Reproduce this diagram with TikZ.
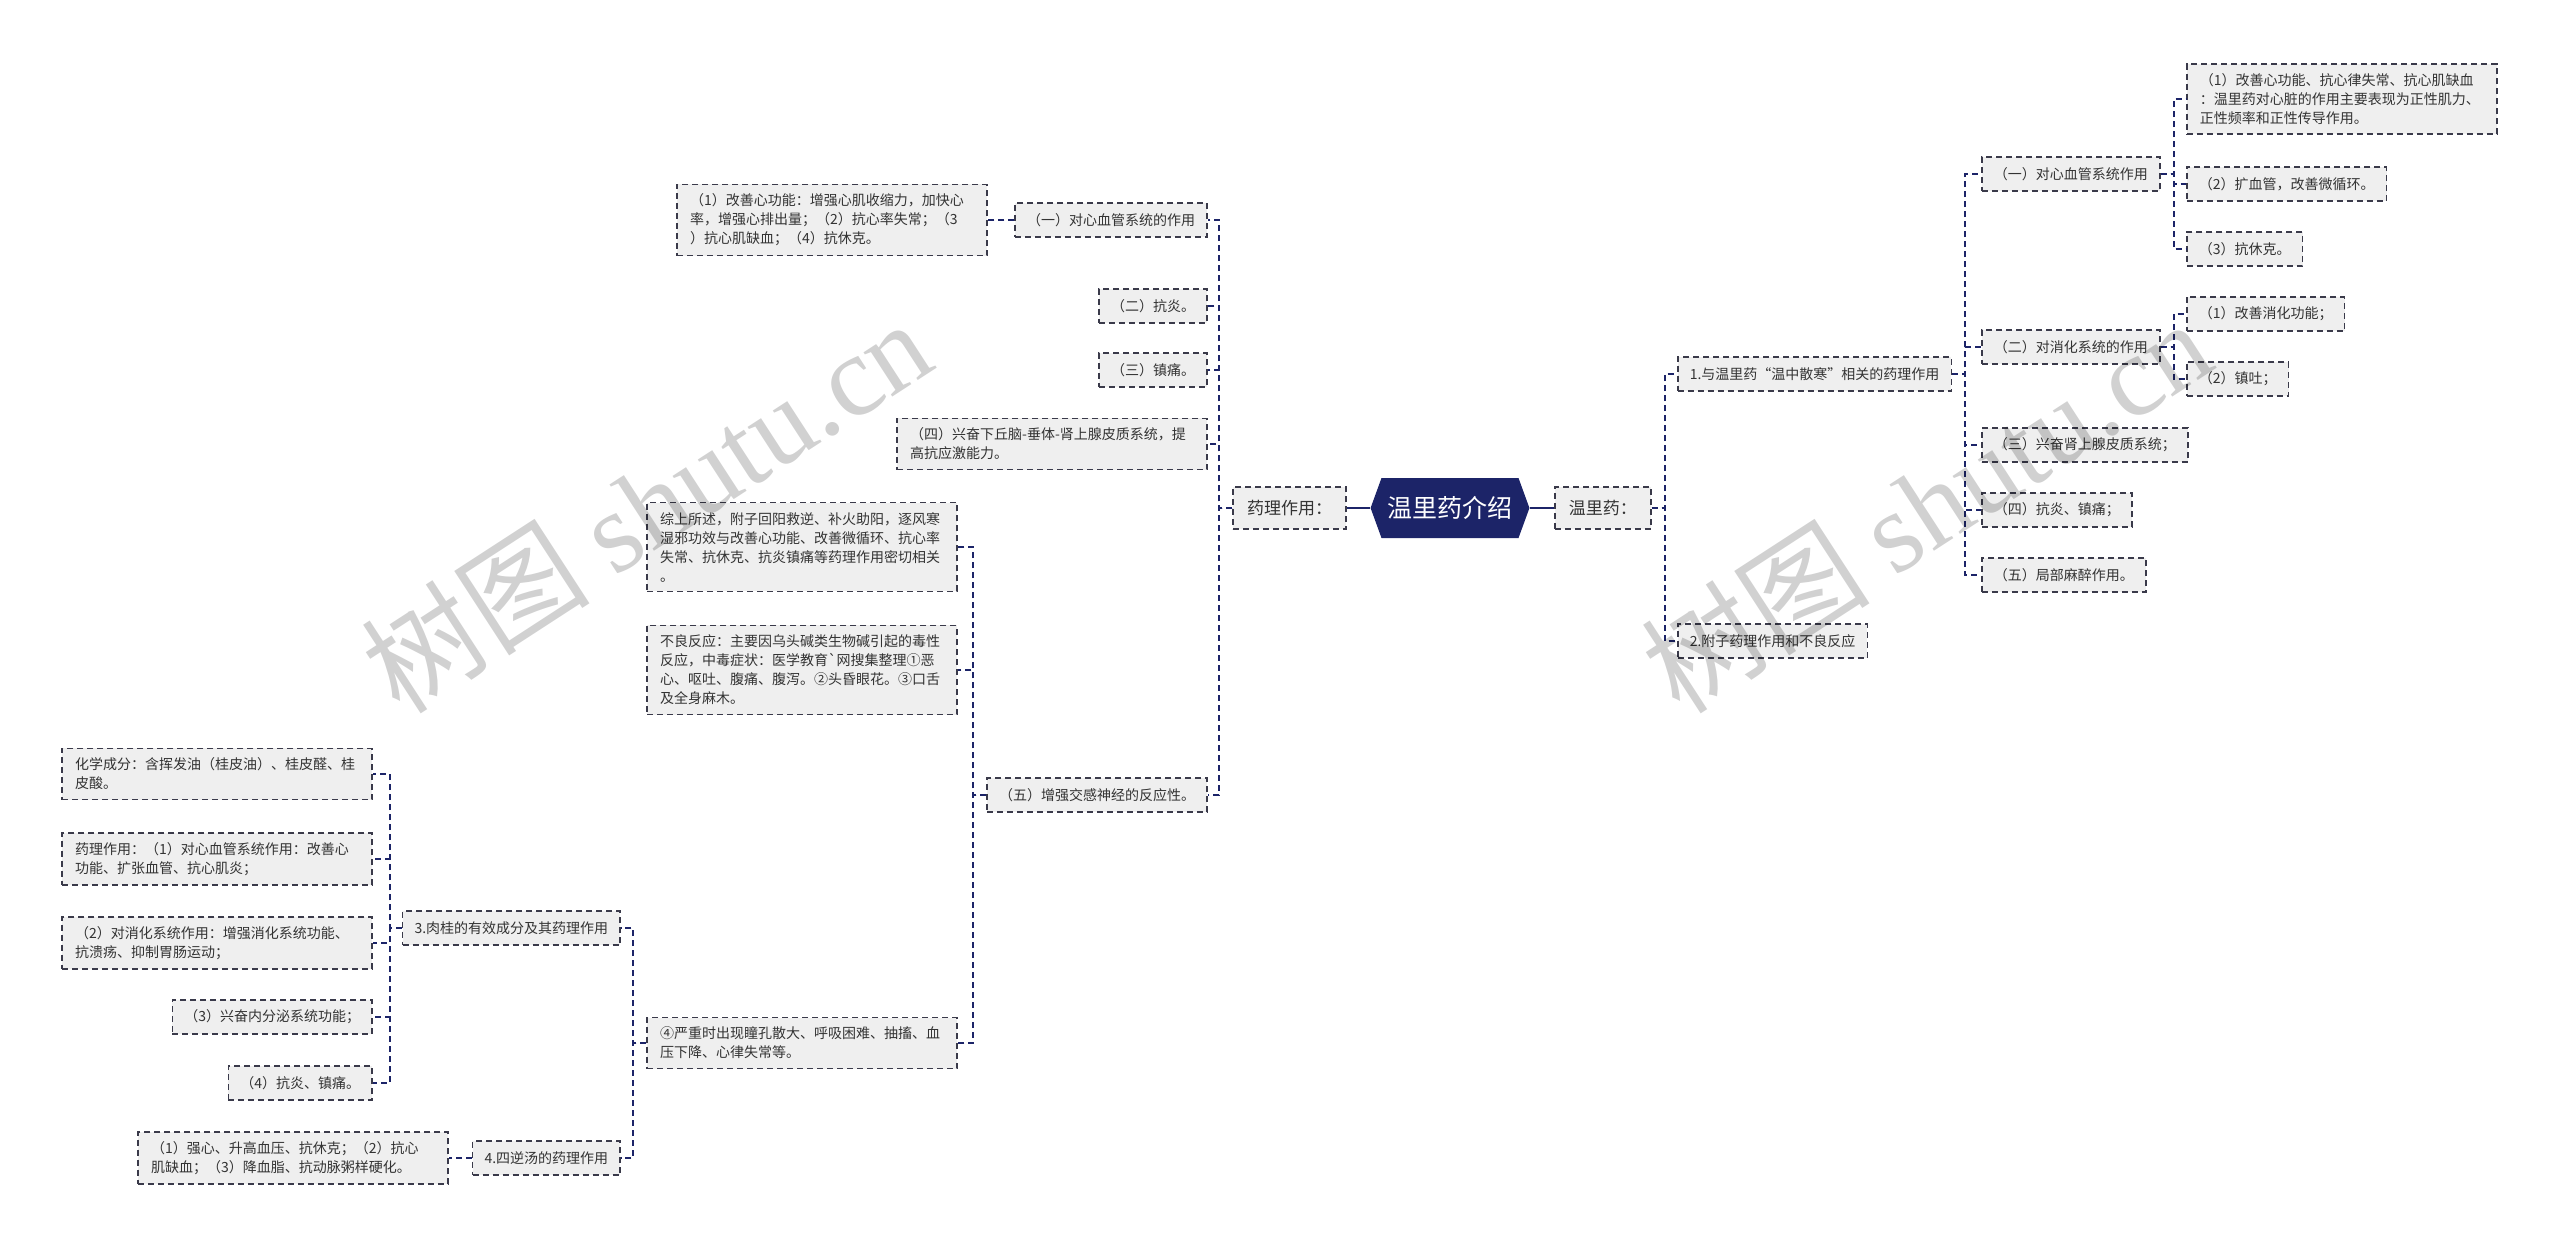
\documentclass[tikz,border=0pt]{standalone}
\usepackage{fontspec}
\usepackage{tikz}
\usetikzlibrary{positioning, shapes.symbols}
\newfontfamily\cjk{Noto Sans CJK SC}
\newfontfamily\wmserif{Liberation Serif}
\definecolor{navy}{HTML}{1C2468}
\definecolor{boxfill}{HTML}{EFEFEF}
\definecolor{boxline}{HTML}{3A3A4A}
\definecolor{ink}{HTML}{333333}

\begin{document}
\begin{tikzpicture}[
  x=1pt, y=-1pt,
  hub/.style={signal, signal to=west and east, signal pointer angle=140,
    fill=navy, text=white, font=\cjk\fontsize{25}{30}\selectfont,
    minimum width=150pt, minimum height=60pt, inner xsep=6pt},
  branch/.style={rectangle, draw=boxline, fill=boxfill, text=ink,
    line width=1.6pt, dash pattern=on 6pt off 4pt,
    font=\cjk\fontsize{17}{22}\selectfont,
    minimum height=42pt, inner xsep=14pt},
  leaf/.style={rectangle, draw=boxline, fill=boxfill, text=ink,
    line width=1.6pt, dash pattern=on 6pt off 4pt,
    font=\cjk\fontsize{14}{19}\selectfont,
    minimum height=34pt, inner xsep=12pt, inner ysep=9.5pt},
  longleaf/.style={leaf, text width=284pt, align=left, inner xsep=13pt},
  link/.style={draw=navy, line width=2pt, dash pattern=on 6pt off 4pt},
  trunk/.style={draw=navy, line width=2.6pt},
  wmark/.style={rotate=33, text=black, text opacity=0.18,
    font=\cjk\fontsize{115}{115}\selectfont}
]
  \path[fill=white, use as bounding box] (0,0) rectangle (2560,1248);

  % centre and first level
  \node[hub] (root) at (1450,508) {温里药介绍};
  \node[branch, anchor=east] (yl) at (1347,508) {药理作用：};
  \node[branch, anchor=west] (wl) at (1554,508) {温里药：};

  % left side
  \node[leaf, anchor=east] (l1) at (1208,220) {（一）对心血管系统的作用};
  \node[longleaf, anchor=east] (l1a) at (988,220) {（1）改善心功能：增强心肌收缩力，加快心\\率，增强心排出量；（2）抗心率失常；（3\\）抗心肌缺血；（4）抗休克。};
  \node[leaf, anchor=east] (l2) at (1208,306) {（二）抗炎。};
  \node[leaf, anchor=east] (l3) at (1208,370) {（三）镇痛。};
  \node[longleaf, anchor=east] (l4) at (1208,444) {（四）兴奋下丘脑-垂体-肾上腺皮质系统，提\\高抗应激能力。};
  \node[leaf, anchor=east] (l5) at (1208,795) {（五）增强交感神经的反应性。};

  \node[longleaf, anchor=east] (l5a) at (958,547) {综上所述，附子回阳救逆、补火助阳，逐风寒\\湿邪功效与改善心功能、改善微循环、抗心率\\失常、抗休克、抗炎镇痛等药理作用密切相关\\。};
  \node[longleaf, anchor=east] (l5b) at (958,670) {不良反应：主要因乌头碱类生物碱引起的毒性\\反应，中毒症状：医学教育\textasciigrave 网搜集整理①恶\\心、呕吐、腹痛、腹泻。②头昏眼花。③口舌\\及全身麻木。};
  \node[longleaf, anchor=east] (l5c) at (958,1043) {④严重时出现瞳孔散大、呼吸困难、抽搐、血\\压下降、心律失常等。};

  \node[leaf, anchor=east] (rg) at (621,928) {3.肉桂的有效成分及其药理作用};
  \node[leaf, anchor=east] (sn) at (621,1158) {4.四逆汤的药理作用};

  \node[longleaf, anchor=east] (rg1) at (373,774) {化学成分：含挥发油（桂皮油）、桂皮醛、桂\\皮酸。};
  \node[longleaf, anchor=east] (rg2) at (373,859) {药理作用：（1）对心血管系统作用：改善心\\功能、扩张血管、抗心肌炎；};
  \node[longleaf, anchor=east] (rg3) at (373,943) {（2）对消化系统作用：增强消化系统功能、\\抗溃疡、抑制胃肠运动；};
  \node[leaf, anchor=east] (rg4) at (373,1017) {（3）兴奋内分泌系统功能；};
  \node[leaf, anchor=east] (rg5) at (373,1083) {（4）抗炎、镇痛。};
  \node[longleaf, anchor=east] (sn1) at (449,1158) {（1）强心、升高血压、抗休克；（2）抗心\\肌缺血；（3）降血脂、抗动脉粥样硬化。};

  % right side
  \node[leaf, anchor=west] (r1) at (1677,374) {1.与温里药“温中散寒”相关的药理作用};
  \node[leaf, anchor=west] (r2) at (1677,641) {2.附子药理作用和不良反应};

  \node[leaf, anchor=west] (r11) at (1981,174) {（一）对心血管系统作用};
  \node[leaf, anchor=west] (r12) at (1981,347) {（二）对消化系统的作用};
  \node[leaf, anchor=west] (r13) at (1981,445) {（三）兴奋肾上腺皮质系统；};
  \node[leaf, anchor=west] (r14) at (1981,510) {（四）抗炎、镇痛；};
  \node[leaf, anchor=west] (r15) at (1981,575) {（五）局部麻醉作用。};

  \node[longleaf, anchor=west] (r11a) at (2186,99) {（1）改善心功能、抗心律失常、抗心肌缺血\\：温里药对心脏的作用主要表现为正性肌力、\\正性频率和正性传导作用。};
  \node[leaf, anchor=west] (r11b) at (2186,184) {（2）扩血管，改善微循环。};
  \node[leaf, anchor=west] (r11c) at (2186,249) {（3）抗休克。};
  \node[leaf, anchor=west] (r12a) at (2186,314) {（1）改善消化功能；};
  \node[leaf, anchor=west] (r12b) at (2186,379) {（2）镇吐；};

  % connectors
  \draw[trunk] (root.west) -- (yl.east);
  \draw[trunk] (root.east) -- (wl.west);

  \foreach \c in {l1,l2,l3,l4,l5}
    \draw[link] (yl.west) -- ++(-13,0) |- (\c.east);
  \draw[link] (l1.west) -- (l1a.east);
  \foreach \c in {l5a,l5b,l5c}
    \draw[link] (l5.west) -- ++(-13,0) |- (\c.east);
  \foreach \c in {rg,sn}
    \draw[link] (l5c.west) -- ++(-13,0) |- (\c.east);
  \foreach \c in {rg1,rg2,rg3,rg4,rg5}
    \draw[link] (rg.west) -- ++(-12,0) |- (\c.east);
  \draw[link] (sn.west) -- (sn1.east);

  \foreach \c in {r1,r2}
    \draw[link] (wl.east) -- ++(13,0) |- (\c.west);
  \foreach \c in {r11,r12,r13,r14,r15}
    \draw[link] (r1.east) -- ++(13,0) |- (\c.west);
  \foreach \c in {r11a,r11b,r11c}
    \draw[link] (r11.east) -- ++(13,0) |- (\c.west);
  \foreach \c in {r12a,r12b}
    \draw[link] (r12.east) -- ++(13,0) |- (\c.west);

  % watermark
  \node[wmark] (wm1) at (646,505) {树图 {\wmserif shutu.cn}};
  \node[wmark] (wm2) at (1926,505) {树图 {\wmserif shutu.cn}};
\end{tikzpicture}
\end{document}
